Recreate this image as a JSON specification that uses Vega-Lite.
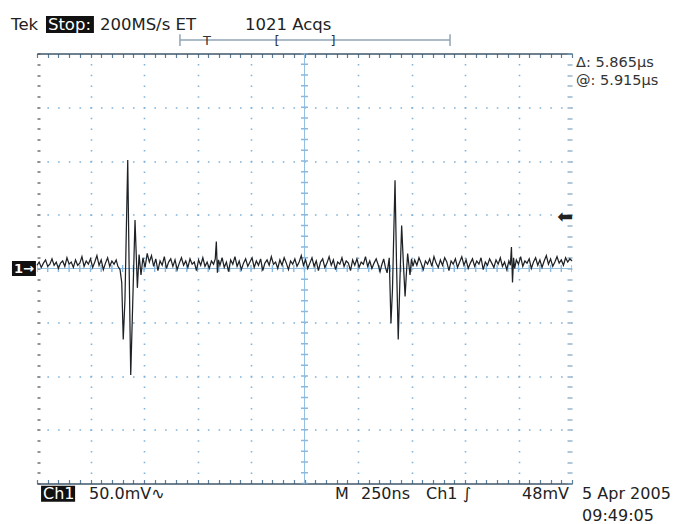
{
  "$schema": "https://vega.github.io/schema/vega-lite/v6.json",
  "width": 535,
  "height": 430,
  "autosize": {"type": "none"},
  "padding": {"left": 37, "top": 53.5, "right": 104, "bottom": 40.5},
  "background": "white",
  "config": {"view": {"stroke": null}},
  "data": {"values": [{}]},
  "datasets": {
    "trace": [
      {"t":0,"v":3},{"t":10,"v":6},{"t":20,"v":1},{"t":30,"v":5},{"t":40,"v":8},{"t":50,"v":2},{"t":60,"v":4},{"t":70,"v":9},{"t":80,"v":3},{"t":90,"v":6},
      {"t":100,"v":0},{"t":110,"v":5},{"t":120,"v":7},{"t":130,"v":2},{"t":140,"v":10},{"t":150,"v":4},{"t":160,"v":6},{"t":170,"v":1},{"t":180,"v":8},{"t":190,"v":3},
      {"t":200,"v":5},{"t":210,"v":11},{"t":220,"v":2},{"t":230,"v":7},{"t":240,"v":4},{"t":250,"v":9},{"t":260,"v":1},{"t":270,"v":6},{"t":280,"v":12},{"t":290,"v":3},
      {"t":300,"v":8},{"t":310,"v":-1},{"t":320,"v":5},{"t":330,"v":10},{"t":340,"v":2},{"t":350,"v":7},{"t":360,"v":4},{"t":370,"v":8},
      {"t":378,"v":2},{"t":388,"v":-1},{"t":396,"v":-13},{"t":403,"v":-66},{"t":411,"v":-29},{"t":424,"v":101},{"t":430,"v":8},{"t":438,"v":-99},{"t":449,"v":-20},{"t":458,"v":45},{"t":463,"v":17},{"t":469,"v":-18},{"t":477,"v":13},{"t":486,"v":-6},{"t":495,"v":10},{"t":505,"v":1},
      {"t":515,"v":14},{"t":525,"v":6},{"t":535,"v":12},{"t":545,"v":2},{"t":555,"v":9},{"t":565,"v":-2},{"t":575,"v":7},{"t":585,"v":3},{"t":595,"v":11},{"t":605,"v":0},
      {"t":615,"v":6},{"t":625,"v":9},{"t":635,"v":2},{"t":645,"v":8},{"t":655,"v":-1},{"t":665,"v":5},{"t":675,"v":10},{"t":685,"v":3},{"t":695,"v":7},{"t":705,"v":1},
      {"t":715,"v":9},{"t":725,"v":4},{"t":735,"v":6},{"t":745,"v":-2},{"t":755,"v":8},{"t":765,"v":3},{"t":775,"v":10},{"t":785,"v":2},{"t":795,"v":6},{"t":805,"v":0},
      {"t":815,"v":7},{"t":825,"v":4},{"t":833,"v":9},{"t":838,"v":25},{"t":843,"v":-4},{"t":848,"v":8},{"t":855,"v":3},{"t":865,"v":10},{"t":875,"v":1},{"t":885,"v":6},
      {"t":895,"v":-3},{"t":905,"v":8},{"t":915,"v":4},{"t":925,"v":11},{"t":935,"v":2},{"t":945,"v":7},{"t":955,"v":-1},{"t":965,"v":5},{"t":975,"v":9},{"t":985,"v":2},
      {"t":995,"v":6},{"t":1005,"v":10},{"t":1015,"v":1},{"t":1025,"v":7},{"t":1035,"v":3},{"t":1045,"v":9},{"t":1055,"v":-2},{"t":1065,"v":5},{"t":1075,"v":8},{"t":1085,"v":3},
      {"t":1095,"v":11},{"t":1105,"v":4},{"t":1115,"v":6},{"t":1125,"v":0},{"t":1135,"v":8},{"t":1145,"v":3},{"t":1155,"v":10},{"t":1165,"v":5},{"t":1175,"v":-1},{"t":1185,"v":7},
      {"t":1195,"v":4},{"t":1205,"v":9},{"t":1215,"v":2},{"t":1225,"v":6},{"t":1235,"v":12},{"t":1245,"v":3},{"t":1255,"v":8},{"t":1265,"v":0},{"t":1275,"v":5},{"t":1285,"v":10},
      {"t":1295,"v":2},{"t":1305,"v":7},{"t":1315,"v":-2},{"t":1325,"v":6},{"t":1335,"v":9},{"t":1345,"v":1},{"t":1355,"v":5},{"t":1365,"v":11},{"t":1375,"v":3},{"t":1385,"v":8},
      {"t":1395,"v":-1},{"t":1405,"v":6},{"t":1415,"v":4},{"t":1425,"v":10},{"t":1435,"v":2},{"t":1445,"v":7},{"t":1455,"v":5},{"t":1465,"v":-2},{"t":1475,"v":8},{"t":1485,"v":3},
      {"t":1495,"v":9},{"t":1505,"v":1},{"t":1515,"v":6},{"t":1525,"v":4},{"t":1535,"v":11},{"t":1545,"v":2},{"t":1555,"v":7},{"t":1565,"v":0},{"t":1575,"v":5},{"t":1585,"v":9},
      {"t":1595,"v":3},{"t":1603,"v":-3},{"t":1612,"v":4},{"t":1620,"v":9},{"t":1628,"v":1},{"t":1636,"v":-4},{"t":1646,"v":10},{"t":1654,"v":-51},{"t":1661,"v":-20},{"t":1673,"v":82},
      {"t":1680,"v":5},{"t":1688,"v":-66},{"t":1696,"v":-10},{"t":1704,"v":40},{"t":1712,"v":5},{"t":1720,"v":-26},{"t":1726,"v":-5},{"t":1732,"v":14},{"t":1743,"v":-6},{"t":1750,"v":9},
      {"t":1757,"v":2},{"t":1765,"v":8},{"t":1775,"v":3},{"t":1785,"v":10},{"t":1795,"v":5},{"t":1805,"v":-1},{"t":1815,"v":7},{"t":1825,"v":4},{"t":1835,"v":9},{"t":1845,"v":2},
      {"t":1855,"v":11},{"t":1865,"v":5},{"t":1875,"v":1},{"t":1885,"v":8},{"t":1895,"v":3},{"t":1905,"v":10},{"t":1915,"v":6},{"t":1925,"v":-2},{"t":1935,"v":7},{"t":1945,"v":4},
      {"t":1955,"v":9},{"t":1965,"v":1},{"t":1975,"v":6},{"t":1985,"v":11},{"t":1995,"v":3},{"t":2005,"v":8},{"t":2015,"v":0},{"t":2025,"v":5},{"t":2035,"v":9},{"t":2045,"v":2},
      {"t":2055,"v":7},{"t":2065,"v":4},{"t":2075,"v":10},{"t":2085,"v":-1},{"t":2095,"v":6},{"t":2105,"v":3},{"t":2115,"v":9},{"t":2125,"v":5},{"t":2135,"v":1},{"t":2145,"v":8},
      {"t":2155,"v":4},{"t":2165,"v":10},{"t":2175,"v":2},{"t":2185,"v":6},{"t":2195,"v":-1},{"t":2205,"v":7},{"t":2212,"v":3},{"t":2217,"v":20},{"t":2222,"v":-13},{"t":2227,"v":10},
      {"t":2232,"v":0},{"t":2240,"v":8},{"t":2250,"v":4},{"t":2260,"v":11},{"t":2270,"v":2},{"t":2280,"v":7},{"t":2290,"v":5},{"t":2300,"v":9},{"t":2310,"v":0},{"t":2320,"v":6},
      {"t":2330,"v":10},{"t":2340,"v":3},{"t":2350,"v":8},{"t":2360,"v":1},{"t":2370,"v":7},{"t":2380,"v":12},{"t":2390,"v":4},{"t":2400,"v":9},{"t":2410,"v":2},{"t":2420,"v":6},
      {"t":2430,"v":11},{"t":2440,"v":5},{"t":2450,"v":8},{"t":2460,"v":3},{"t":2470,"v":10},{"t":2480,"v":6},{"t":2490,"v":9},{"t":2500,"v":7}
    ]
  },
  "layer": [
    {
      "data": {"name": "trace"},
      "mark": {"type": "line", "opacity": 0},
      "encoding": {
        "x": {"field": "t", "type": "quantitative", "scale": {"domain": [0, 2500], "nice": false, "zero": false},
          "axis": {"orient": "top", "title": null, "labels": false, "domain": true, "domainColor": "#3f5668", "domainWidth": 1.6,
            "values": [0,50,100,150,200,250,300,350,400,450,500,550,600,650,700,750,800,850,900,950,1000,1050,1100,1150,1200,1250,1300,1350,1400,1450,1500,1550,1600,1650,1700,1750,1800,1850,1900,1950,2000,2050,2100,2150,2200,2250,2300,2350,2400,2450,2500],
            "ticks": true, "tickSize": -4, "tickColor": "#5b7f9a", "tickWidth": 1.2, "grid": false}},
        "y": {"field": "v", "type": "quantitative", "scale": {"domain": [-200, 200], "nice": false, "zero": false},
          "axis": {"orient": "right", "title": null, "labels": false, "domain": false,
            "values": [-200,-190,-180,-170,-160,-150,-140,-130,-120,-110,-100,-90,-80,-70,-60,-50,-40,-30,-20,-10,0,10,20,30,40,50,60,70,80,90,100,110,120,130,140,150,160,170,180,190,200],
            "ticks": true, "tickSize": -5, "tickColor": "#7aa2c0", "tickWidth": 1.2, "grid": false}}
      }
    },
    {
      "mark": {"type": "rule", "color": "#94c0e2", "strokeWidth": 1},
      "encoding": {"x": {"datum": 1250, "type": "quantitative", "axis": null}}
    },
    {
      "mark": {"type": "rule", "color": "#8ab8de", "strokeWidth": 7, "strokeDash": [1.4, 9.35], "strokeDashOffset": 0.7},
      "encoding": {"x": {"datum": 1250, "type": "quantitative", "axis": null}}
    },
    {
      "mark": {"type": "rule", "color": "#94c0e2", "strokeWidth": 1},
      "encoding": {"y": {"datum": 0, "type": "quantitative", "axis": null}}
    },
    {
      "mark": {"type": "rule", "color": "#8ab8de", "strokeWidth": 7, "strokeDash": [1.4, 9.3], "strokeDashOffset": 0.7},
      "encoding": {"y": {"datum": 0, "type": "quantitative", "axis": null}}
    },
    {
      "data": {"name": "trace"},
      "mark": {"type": "line", "color": "#1e2226", "strokeWidth": 1.25},
      "encoding": {
        "x": {"field": "t", "type": "quantitative", "scale": {"domain": [0, 2500], "nice": false, "zero": false},
          "axis": {"orient": "bottom", "title": null, "labels": false, "domain": true, "domainColor": "#3f5668", "domainWidth": 1.6,
            "values": [0,50,100,150,200,250,300,350,400,450,500,550,600,650,700,750,800,850,900,950,1000,1050,1100,1150,1200,1250,1300,1350,1400,1450,1500,1550,1600,1650,1700,1750,1800,1850,1900,1950,2000,2050,2100,2150,2200,2250,2300,2350,2400,2450,2500],
            "ticks": true, "tickSize": -4, "tickColor": "#5b7f9a", "tickWidth": 1.2,
            "grid": true, "gridColor": "#7fb3dc", "gridWidth": 1.6, "gridDash": [1.6, 9.15], "gridDashOffset": 0.8,
            "gridOpacity": {"condition": {"test": "datum.value % 250 === 0 && datum.value > 0 && datum.value < 2500 && datum.value !== 1250", "value": 1}, "value": 0}}},
        "y": {"field": "v", "type": "quantitative", "scale": {"domain": [-200, 200], "nice": false, "zero": false},
          "axis": {"orient": "left", "title": null, "labels": false, "domain": false,
            "values": [-200,-190,-180,-170,-160,-150,-140,-130,-120,-110,-100,-90,-80,-70,-60,-50,-40,-30,-20,-10,0,10,20,30,40,50,60,70,80,90,100,110,120,130,140,150,160,170,180,190,200],
            "ticks": true, "tickSize": -3, "tickColor": "#555c62", "tickWidth": 1.3,
            "grid": true, "gridColor": "#7fb3dc", "gridWidth": 1.6, "gridDash": [1.6, 9.1], "gridDashOffset": 0.8,
            "gridOpacity": {"condition": {"test": "datum.value % 50 === 0 && datum.value > -200 && datum.value < 200 && datum.value !== 0", "value": 1}, "value": 0}}}
      }
    },
    {
      "mark": {"type": "rule", "color": "#8fa5b5", "strokeWidth": 1.5},
      "encoding": {"x": {"datum": 668, "type": "quantitative", "axis": null}, "x2": {"datum": 1930}, "y": {"datum": 212.6, "type": "quantitative", "axis": null}}
    },
    {
      "mark": {"type": "rule", "color": "#8fa5b5", "strokeWidth": 1.5},
      "encoding": {"x": {"datum": 668, "type": "quantitative", "axis": null}, "y": {"datum": 218, "type": "quantitative", "axis": null}, "y2": {"datum": 207}}
    },
    {
      "mark": {"type": "rule", "color": "#8fa5b5", "strokeWidth": 1.5},
      "encoding": {"x": {"datum": 1930, "type": "quantitative", "axis": null}, "y": {"datum": 218, "type": "quantitative", "axis": null}, "y2": {"datum": 207}}
    },
    {
      "mark": {"type": "text", "text": "T", "align": "center", "baseline": "middle", "fontSize": 13, "font": "DejaVu Sans", "color": "#333"},
      "encoding": {"x": {"datum": 794, "type": "quantitative", "axis": null}, "y": {"datum": 212, "type": "quantitative", "axis": null}}
    },
    {
      "mark": {"type": "text", "text": "[", "align": "center", "baseline": "middle", "fontSize": 13, "font": "DejaVu Sans", "color": "#333"},
      "encoding": {"x": {"datum": 1122, "type": "quantitative", "axis": null}, "y": {"datum": 212, "type": "quantitative", "axis": null}}
    },
    {
      "mark": {"type": "text", "text": "]", "align": "center", "baseline": "middle", "fontSize": 13, "font": "DejaVu Sans", "color": "#333"},
      "encoding": {"x": {"datum": 1383, "type": "quantitative", "axis": null}, "y": {"datum": 212, "type": "quantitative", "axis": null}}
    },
    {
      "mark": {"type": "rect", "color": "#111"},
      "encoding": {"x": {"datum": 42, "type": "quantitative", "axis": null}, "x2": {"datum": 266}, "y": {"datum": 235, "type": "quantitative", "axis": null}, "y2": {"datum": 219}}
    },
    {
      "mark": {"type": "text", "text": "Tek", "align": "left", "baseline": "alphabetic", "fontSize": 16.5, "font": "DejaVu Sans", "color": "#222"},
      "encoding": {"x": {"datum": -121, "type": "quantitative", "axis": null}, "y": {"datum": 222, "type": "quantitative", "axis": null}}
    },
    {
      "mark": {"type": "text", "text": "Stop:", "align": "left", "baseline": "alphabetic", "fontSize": 16.5, "font": "DejaVu Sans", "color": "white"},
      "encoding": {"x": {"datum": 51, "type": "quantitative", "axis": null}, "y": {"datum": 222, "type": "quantitative", "axis": null}}
    },
    {
      "mark": {"type": "text", "text": "200MS/s ET", "align": "left", "baseline": "alphabetic", "fontSize": 16.5, "font": "DejaVu Sans", "color": "#222"},
      "encoding": {"x": {"datum": 294, "type": "quantitative", "axis": null}, "y": {"datum": 222, "type": "quantitative", "axis": null}}
    },
    {
      "mark": {"type": "text", "text": "1021 Acqs", "align": "left", "baseline": "alphabetic", "fontSize": 16.5, "font": "DejaVu Sans", "color": "#222"},
      "encoding": {"x": {"datum": 972, "type": "quantitative", "axis": null}, "y": {"datum": 222, "type": "quantitative", "axis": null}}
    },
    {
      "mark": {"type": "text", "text": "Δ: 5.865µs", "align": "left", "baseline": "alphabetic", "fontSize": 14.5, "font": "DejaVu Sans", "color": "#333"},
      "encoding": {"x": {"datum": 2519, "type": "quantitative", "axis": null}, "y": {"datum": 187.5, "type": "quantitative", "axis": null}}
    },
    {
      "mark": {"type": "text", "text": "@: 5.915µs", "align": "left", "baseline": "alphabetic", "fontSize": 14.5, "font": "DejaVu Sans", "color": "#333"},
      "encoding": {"x": {"datum": 2519, "type": "quantitative", "axis": null}, "y": {"datum": 171, "type": "quantitative", "axis": null}}
    },
    {
      "mark": {"type": "text", "text": "⬅", "align": "center", "baseline": "middle", "fontSize": 19, "font": "DejaVu Sans", "color": "#222"},
      "encoding": {"x": {"datum": 2468, "type": "quantitative", "axis": null}, "y": {"datum": 48, "type": "quantitative", "axis": null}}
    },
    {
      "mark": {"type": "rect", "color": "#111"},
      "encoding": {"x": {"datum": -117, "type": "quantitative", "axis": null}, "x2": {"datum": -5}, "y": {"datum": 7, "type": "quantitative", "axis": null}, "y2": {"datum": -7}}
    },
    {
      "mark": {"type": "text", "text": "1→", "align": "center", "baseline": "middle", "fontSize": 13, "fontWeight": "bold", "font": "DejaVu Sans", "color": "white"},
      "encoding": {"x": {"datum": -61, "type": "quantitative", "axis": null}, "y": {"datum": 0, "type": "quantitative", "axis": null}}
    },
    {
      "mark": {"type": "rect", "color": "#111"},
      "encoding": {"x": {"datum": 19, "type": "quantitative", "axis": null}, "x2": {"datum": 178}, "y": {"datum": -202, "type": "quantitative", "axis": null}, "y2": {"datum": -217}}
    },
    {
      "mark": {"type": "text", "text": "Ch1", "align": "left", "baseline": "alphabetic", "fontSize": 16, "font": "DejaVu Sans", "color": "white"},
      "encoding": {"x": {"datum": 28, "type": "quantitative", "axis": null}, "y": {"datum": -214, "type": "quantitative", "axis": null}}
    },
    {
      "mark": {"type": "text", "text": "50.0mV∿", "align": "left", "baseline": "alphabetic", "fontSize": 16, "font": "DejaVu Sans", "color": "#222"},
      "encoding": {"x": {"datum": 243, "type": "quantitative", "axis": null}, "y": {"datum": -214, "type": "quantitative", "axis": null}}
    },
    {
      "mark": {"type": "text", "text": "M", "align": "left", "baseline": "alphabetic", "fontSize": 16, "font": "DejaVu Sans", "color": "#222"},
      "encoding": {"x": {"datum": 1392, "type": "quantitative", "axis": null}, "y": {"datum": -214, "type": "quantitative", "axis": null}}
    },
    {
      "mark": {"type": "text", "text": "250ns", "align": "left", "baseline": "alphabetic", "fontSize": 16, "font": "DejaVu Sans", "color": "#222"},
      "encoding": {"x": {"datum": 1514, "type": "quantitative", "axis": null}, "y": {"datum": -214, "type": "quantitative", "axis": null}}
    },
    {
      "mark": {"type": "text", "text": "Ch1 ∫", "align": "left", "baseline": "alphabetic", "fontSize": 16, "font": "DejaVu Sans", "color": "#222"},
      "encoding": {"x": {"datum": 1818, "type": "quantitative", "axis": null}, "y": {"datum": -214, "type": "quantitative", "axis": null}}
    },
    {
      "mark": {"type": "text", "text": "48mV", "align": "right", "baseline": "alphabetic", "fontSize": 16, "font": "DejaVu Sans", "color": "#222"},
      "encoding": {"x": {"datum": 2486, "type": "quantitative", "axis": null}, "y": {"datum": -214, "type": "quantitative", "axis": null}}
    },
    {
      "mark": {"type": "text", "text": "5 Apr 2005", "align": "left", "baseline": "alphabetic", "fontSize": 16, "font": "DejaVu Sans", "color": "#222"},
      "encoding": {"x": {"datum": 2547, "type": "quantitative", "axis": null}, "y": {"datum": -214, "type": "quantitative", "axis": null}}
    },
    {
      "mark": {"type": "text", "text": "09:49:05", "align": "left", "baseline": "alphabetic", "fontSize": 16, "font": "DejaVu Sans", "color": "#222"},
      "encoding": {"x": {"datum": 2547, "type": "quantitative", "axis": null}, "y": {"datum": -235, "type": "quantitative", "axis": null}}
    }
  ]
}
